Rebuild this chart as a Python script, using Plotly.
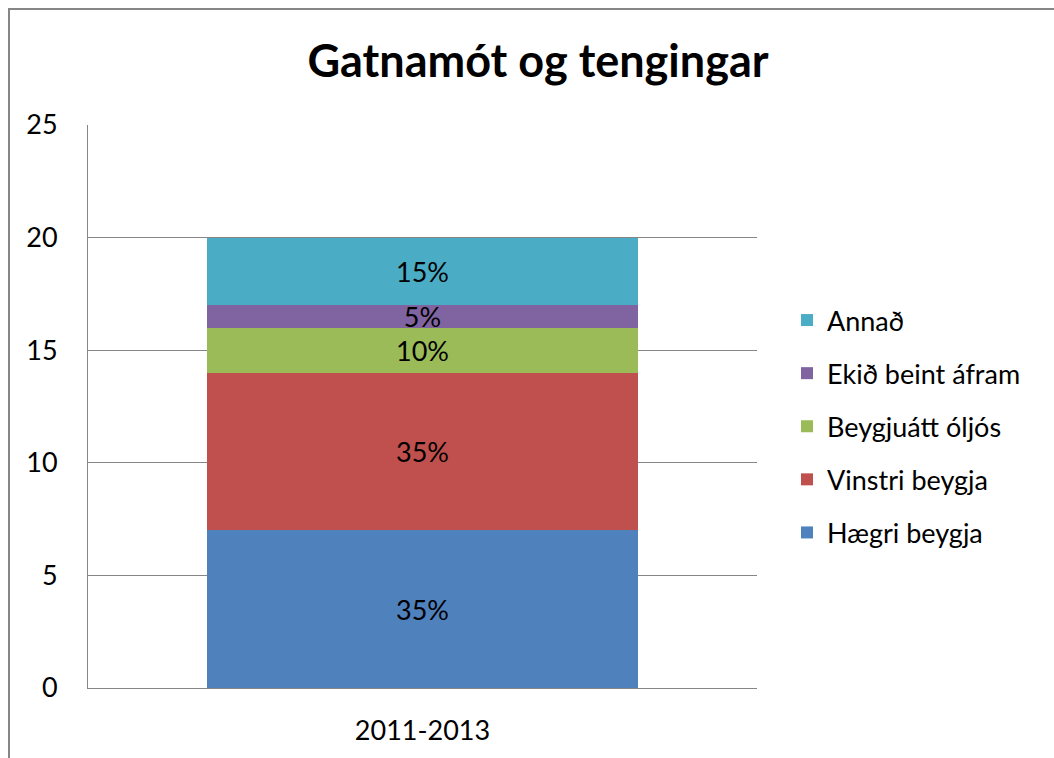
import plotly.graph_objects as go

categories = ["2011-2013"]
series_names = ["Hægri beygja", "Vinstri beygja", "Beygjuátt óljós", "Ekið beint áfram", "Annað"]
series_values = [[7], [7], [2], [1], [3]]
series_colors = ["#4F81BD", "#C0504D", "#9BBB59", "#8064A2", "#4BACC6"]
y_ticks = [0, 5, 10, 15, 20, 25]

total = sum(v[0] for v in series_values)
FONT = "Lato, Open Sans, sans-serif"
FS = 27

fig = go.Figure()
n = len(series_names)
for i, (name, vals, col) in enumerate(zip(series_names, series_values, series_colors)):
    fig.add_trace(go.Bar(
        x=categories, y=vals, name=name, marker=dict(color=col, line=dict(width=0)),
        text=[f"{round(v / total * 100)}%" for v in vals],
        textposition="inside", insidetextanchor="middle",
        textfont=dict(color="black", size=FS, family=FONT),
        legendgroup=name, legendrank=n - i, width=0.644,
    ))

L, R, T, B = 88, 297, 125, 70
W, H = 1054, 758
pw, ph = W - L - R, H - T - B

fig.update_layout(
    width=W, height=H, barmode="stack",
    margin=dict(l=L, r=R, t=T, b=B, autoexpand=False),
    plot_bgcolor="white", paper_bgcolor="white",
    font=dict(family=FONT, size=FS, color="black"),
    title=dict(text="<b>Gatnamót og tengingar</b>", x=538 / W, xanchor="center",
               y=1 - 61 / H, yanchor="middle", font=dict(size=45, family=FONT)),
    uniformtext=dict(minsize=FS, mode="show"),
    legend=dict(x=(787 - L) / pw, y=(688 - 296) / ph, xanchor="left", yanchor="top",
                traceorder="grouped", tracegroupgap=15,
                font=dict(size=FS, family=FONT), itemwidth=30),
    xaxis=dict(showline=True, linecolor="#868686", linewidth=1, showgrid=False,
               ticks="", ticklabelstandoff=19, range=[-0.5, 0.5], automargin=False),
    yaxis=dict(range=[0, 25], tickvals=y_ticks, showline=True, linecolor="#868686",
               linewidth=1, showgrid=True, gridcolor="#868686", gridwidth=1,
               ticks="", ticklabelstandoff=24, zeroline=False, automargin=False),
    shapes=[dict(type="rect", xref="paper", yref="paper",
                 x0=(9 - L) / pw, x1=(W + 20 - L) / pw,
                 y0=(688 - (H + 20)) / ph, y1=(688 - 9) / ph,
                 line=dict(color="#868686", width=2), fillcolor="rgba(0,0,0,0)", layer="below")],
)

fig.write_html("out.html", config={"displayModeBar": False},
               post_script="document.body.style.margin='0';")
